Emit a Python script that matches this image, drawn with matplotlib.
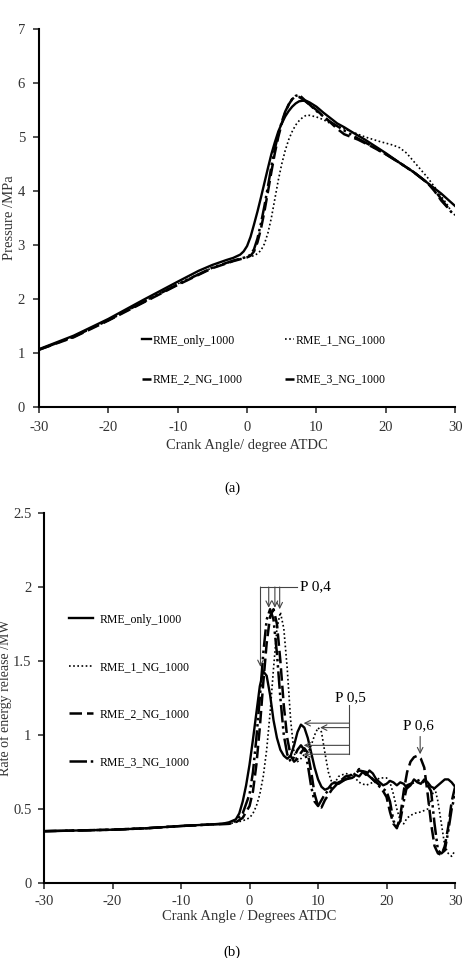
import matplotlib
matplotlib.use("Agg")
from matplotlib import pyplot as plt

plt.rcParams['font.family'] = ['Liberation Serif', 'DejaVu Serif']
plt.rcParams['axes.unicode_minus'] = False

labels = ['RME_only_1000', 'RME_1_NG_1000', 'RME_2_NG_1000', 'RME_3_NG_1000']

### (a) cylinder pressure ###
p_only_x = [-30, -25, -20, -15, -10, -7, -5, -3, -2, -1, -0.5, 0, 0.5, 1, 1.5, 2, 2.5, 3, 3.5, 4, 4.5, 5,
            5.5, 6, 6.5, 7, 7.5, 8, 8.5, 9, 10, 11, 12, 13, 14, 15, 17, 20, 22, 24, 26, 28, 30]
p_only_y = [1.07, 1.32, 1.63, 1.98, 2.32, 2.52, 2.63, 2.72, 2.76, 2.82, 2.88, 2.98, 3.15, 3.38, 3.62, 3.88,
            4.15, 4.42, 4.68, 4.9, 5.1, 5.25, 5.38, 5.48, 5.56, 5.62, 5.66, 5.67, 5.67, 5.64, 5.56, 5.45,
            5.35, 5.25, 5.18, 5.1, 4.95, 4.7, 4.52, 4.35, 4.15, 3.95, 3.72]

p_ng1_x = [-30, -25, -20, -15, -10, -5, -2, 0, 1, 1.5, 2, 2.5, 3, 3.5, 4, 4.5, 5, 5.5, 6, 6.5, 7, 7.5, 8,
           8.5, 9, 10, 11, 12, 13, 15, 17, 19, 21, 22, 23, 24, 25, 26, 27, 28, 29, 29.5, 30]
p_ng1_y = [1.06, 1.3, 1.6, 1.94, 2.28, 2.58, 2.7, 2.78, 2.8, 2.84, 2.9, 3.02, 3.22, 3.5, 3.85, 4.2, 4.5,
           4.75, 4.95, 5.1, 5.22, 5.3, 5.36, 5.4, 5.4, 5.37, 5.32, 5.25, 5.2, 5.1, 5.0, 4.92, 4.85, 4.8,
           4.7, 4.55, 4.4, 4.25, 4.08, 3.9, 3.72, 3.6, 3.55]

p_ng2_x = [-30, -25, -20, -15, -10, -5, -2, 0, 0.5, 1, 1.5, 2, 2.5, 3, 3.5, 4, 4.5, 5, 5.5, 6, 6.5, 7,
           7.5, 8, 9, 10, 11, 12, 13, 14, 16, 18, 20, 22, 24, 26, 27, 28, 29]
p_ng2_y = [1.06, 1.29, 1.6, 1.93, 2.26, 2.57, 2.7, 2.77, 2.8, 2.88, 3.05, 3.3, 3.62, 3.98, 4.35, 4.7,
           5.0, 5.25, 5.45, 5.6, 5.7, 5.75, 5.74, 5.7, 5.6, 5.5, 5.38, 5.27, 5.15, 5.05, 4.95, 4.82, 4.68,
           4.52, 4.35, 4.15, 4.0, 3.82, 3.68]

p_ng3_x = [-30, -25, -20, -15, -10, -5, -2, 0, 0.5, 1, 1.5, 2, 2.5, 3, 3.5, 4, 4.5, 5, 5.5, 6, 6.5, 7,
           7.5, 8, 9, 10, 12, 14, 16, 18, 20, 22, 24, 26, 27, 28, 29, 29.5]
p_ng3_y = [1.06, 1.3, 1.61, 1.94, 2.27, 2.58, 2.71, 2.78, 2.82, 2.92, 3.12, 3.4, 3.72, 4.08, 4.45, 4.78,
           5.05, 5.28, 5.47, 5.6, 5.7, 5.76, 5.78, 5.72, 5.6, 5.48, 5.28, 5.12, 4.97, 4.83, 4.68, 4.52,
           4.35, 4.15, 4.02, 3.85, 3.68, 3.6]

### (b) rate of energy release ###
r_only_x = [-30, -25, -20, -15, -10, -6, -4, -3, -2, -1.5, -1, -0.5, 0, 0.5, 1, 1.5, 2, 2.5, 3, 3.5, 4,
            4.5, 5, 5.5, 6, 6.5, 7, 7.5, 8, 8.5, 9, 9.5, 10, 10.5, 11, 11.5, 12, 12.5, 13, 14, 15, 15.5,
            16, 16.5, 17, 17.5, 18, 18.5, 19, 19.5, 20, 20.5, 21, 21.5, 22, 22.5, 23, 23.5, 24, 24.5,
            25, 25.5, 26, 26.5, 27, 27.5, 28, 28.5, 29, 29.5, 30]
r_only_y = [0.35, 0.355, 0.36, 0.37, 0.385, 0.395, 0.40, 0.41, 0.43, 0.47, 0.55, 0.66, 0.8, 0.97, 1.15,
            1.33, 1.43, 1.40, 1.27, 1.1, 0.98, 0.9, 0.86, 0.84, 0.86, 0.93, 1.02, 1.07, 1.05, 0.98,
            0.88, 0.78, 0.7, 0.65, 0.63, 0.64, 0.67, 0.68, 0.67, 0.7, 0.71, 0.73, 0.72, 0.75, 0.73,
            0.76, 0.74, 0.7, 0.68, 0.66, 0.67, 0.69, 0.68, 0.66, 0.68, 0.67, 0.64, 0.66, 0.7, 0.68,
            0.67, 0.7, 0.68, 0.65, 0.64, 0.66, 0.68, 0.7, 0.7, 0.68, 0.65]

r_ng1_x = [-30, -25, -20, -15, -10, -5, -3, -2, -1, 0, 0.5, 1, 1.5, 2, 2.5, 3, 3.5, 4, 4.5, 5, 5.5, 6,
           6.5, 7, 7.5, 8, 8.5, 9, 9.5, 10, 10.5, 11, 11.5, 12, 12.5, 13, 14, 15, 16, 17, 18, 19, 20,
           20.5, 21, 21.5, 22, 22.5, 23, 24, 25, 26, 26.5, 27, 27.5, 28, 28.5, 29, 29.5, 30]
r_ng1_y = [0.35, 0.355, 0.36, 0.37, 0.385, 0.397, 0.40, 0.41, 0.42, 0.44, 0.47, 0.52, 0.6, 0.72, 0.9,
           1.15, 1.45, 1.72, 1.83, 1.72, 1.45, 1.1, 0.88, 0.82, 0.84, 0.87, 0.88, 0.93, 1.0, 1.05,
           1.02, 0.88, 0.75, 0.68, 0.68, 0.72, 0.74, 0.73, 0.68, 0.66, 0.68, 0.71, 0.71, 0.68, 0.6,
           0.5, 0.42, 0.4, 0.44, 0.47, 0.48, 0.5, 0.56, 0.65, 0.55, 0.4, 0.25, 0.2, 0.18, 0.22]

r_ng2_x = [-30, -25, -20, -15, -10, -5, -3, -2, -1, 0, 0.5, 1, 1.5, 2, 2.5, 3, 3.5, 4, 4.5, 5, 5.5, 6,
           6.5, 7, 7.5, 8, 8.5, 9, 9.5, 10, 10.5, 11, 12, 13, 14, 15, 16, 17, 18, 19, 20, 20.5, 21,
           21.5, 22, 22.5, 23, 23.5, 24, 24.5, 25, 25.5, 26, 26.5, 27, 27.5, 28, 28.5, 29, 29.5, 30]
r_ng2_y = [0.35, 0.355, 0.36, 0.37, 0.385, 0.397, 0.40, 0.41, 0.44, 0.52, 0.62, 0.8, 1.05, 1.35, 1.62,
           1.8, 1.85, 1.75, 1.5, 1.2, 0.98, 0.86, 0.82, 0.84, 0.88, 0.91, 0.88, 0.75, 0.6, 0.52, 0.51,
           0.56, 0.63, 0.68, 0.72, 0.73, 0.76, 0.75, 0.7, 0.66, 0.58, 0.48, 0.4, 0.37, 0.45, 0.62,
           0.75, 0.82, 0.85, 0.86, 0.84, 0.78, 0.6, 0.4, 0.25, 0.2, 0.19, 0.25, 0.38, 0.55, 0.65]

r_ng3_x = [-30, -25, -20, -15, -10, -5, -3, -2, -1, 0, 0.5, 1, 1.5, 2, 2.5, 3, 3.5, 4, 4.5, 5, 5.5, 6,
           6.5, 7, 7.5, 8, 8.5, 9, 9.5, 10, 10.5, 11, 12, 13, 14, 15, 16, 17, 18, 19, 20, 20.5, 21,
           21.5, 22, 22.5, 23, 24, 25, 26, 26.5, 27, 27.5, 28, 28.5, 29, 29.5, 30]
r_ng3_y = [0.35, 0.355, 0.36, 0.37, 0.385, 0.397, 0.40, 0.42, 0.47, 0.6, 0.75, 0.98, 1.25, 1.55, 1.78,
           1.85, 1.78, 1.55, 1.25, 1.0, 0.87, 0.82, 0.85, 0.9, 0.93, 0.9, 0.8, 0.65, 0.55, 0.52, 0.56,
           0.6, 0.65, 0.68, 0.7, 0.72, 0.77, 0.74, 0.7, 0.65, 0.62, 0.55, 0.42, 0.38, 0.42, 0.55, 0.66,
           0.68, 0.7, 0.66, 0.62, 0.4, 0.22, 0.2, 0.22, 0.35, 0.5, 0.6]

styles = [dict(ls='-', lw=1.7),
          dict(ls=(0, (1, 1.5)), lw=1.2),
          dict(ls=(0, (5, 2)), lw=1.8),
          dict(ls=(0, (7, 1.5, 1, 1.5, 1, 1.5)), lw=1.8)]


def style_axes(ax):
    ax.spines['top'].set_visible(False)
    ax.spines['right'].set_visible(False)
    ax.spines['left'].set_linewidth(1.5)
    ax.spines['bottom'].set_linewidth(1.5)
    ax.tick_params(direction='out', length=4, width=1.2, pad=6, labelsize=10.5, colors='#333333')
    ax.set_xlim(-30, 30)
    ax.set_xticks(range(-30, 31, 10))


fig = plt.figure(figsize=(4.64, 9.58), dpi=100)

ax1 = fig.add_axes([0.084, 0.5752, 0.897, 0.3946])
series_a = [(p_only_x, p_only_y), (p_ng1_x, p_ng1_y), (p_ng2_x, p_ng2_y), (p_ng3_x, p_ng3_y)]
lines_a = []
for (x, y), st, lab in zip(series_a, styles, labels):
    ln, = ax1.plot(x, y, color='black', label=lab, **st)
    lines_a.append(ln)
style_axes(ax1)
ax1.set_ylim(0, 7)
ax1.set_yticks(range(0, 8))
ax1.set_xlabel('Crank Angle/ degree ATDC', fontsize=10.5, color='#333333', labelpad=4)
ax1.set_ylabel('Pressure /MPa', fontsize=10.5, color='#333333')
ax1.yaxis.set_label_coords(-0.055, 0.5)
order = [0, 2, 1, 3]
ax1.legend([lines_a[i] for i in order], [labels[i] for i in order], ncol=2, frameon=False,
           fontsize=8.5, handlelength=0.8, handletextpad=0.1, columnspacing=3.6, labelspacing=2.3,
           loc='center', bbox_to_anchor=(0.54, 0.124))

fig.text(0.5, 1 - 488 / 958, '(a)', ha='center', va='center', fontsize=10.5)

ax2 = fig.add_axes([0.0948, 0.0783, 0.886, 0.3862])
series_b = [(r_only_x, r_only_y), (r_ng1_x, r_ng1_y), (r_ng2_x, r_ng2_y), (r_ng3_x, r_ng3_y)]
for (x, y), st, lab in zip(series_b, styles, labels):
    ax2.plot(x, y, color='black', label=lab, **st)
style_axes(ax2)
ax2.tick_params(pad=5)
ax2.set_ylim(0, 2.5)
ax2.set_yticks([0, 0.5, 1, 1.5, 2, 2.5])
ax2.set_yticklabels(['0', '0.5', '1', '1.5', '2', '2.5'])
ax2.set_xlabel('Crank Angle / Degrees ATDC', fontsize=10.5, color='#333333', labelpad=1)
ax2.set_ylabel('Rate of energy release /MW', fontsize=10, color='#333333')
ax2.yaxis.set_label_coords(-0.077, 0.5)
ax2.legend(frameon=False, fontsize=8.5, handlelength=2.0, handletextpad=0.6, labelspacing=3.0,
           loc='upper left', bbox_to_anchor=(0.035, 0.757))

# peak markers
arr = dict(arrowstyle='->', color='#444444', lw=0.8, shrinkA=0, shrinkB=0)
ax2.plot([1.6, 6.9], [2.0, 2.0], color='#444444', lw=0.8)
for px, py in [(1.6, 1.46), (2.8, 1.86), (3.7, 1.86), (4.4, 1.85)]:
    ax2.annotate('', xy=(px, py), xytext=(px, 2.0), arrowprops=arr)
ax2.text(7.4, 2.0, 'P 0,4', fontsize=11, va='center', ha='left')

ax2.plot([14.5, 14.5], [1.2, 0.87], color='#444444', lw=0.8)
for px, py in [(7.9, 1.08), (10.3, 1.05), (7.9, 0.93), (7.9, 0.87)]:
    ax2.annotate('', xy=(px, py), xytext=(14.5, py), arrowprops=arr)
ax2.text(14.7, 1.25, 'P 0,5', fontsize=11, va='center', ha='center')

ax2.annotate('', xy=(24.9, 0.87), xytext=(24.9, 0.99), arrowprops=arr)
ax2.text(24.7, 1.06, 'P 0,6', fontsize=11, va='center', ha='center')

fig.text(0.5, 1 - 952 / 958, '(b)', ha='center', va='center', fontsize=10.5)

plt.savefig('out.png', dpi=100)
